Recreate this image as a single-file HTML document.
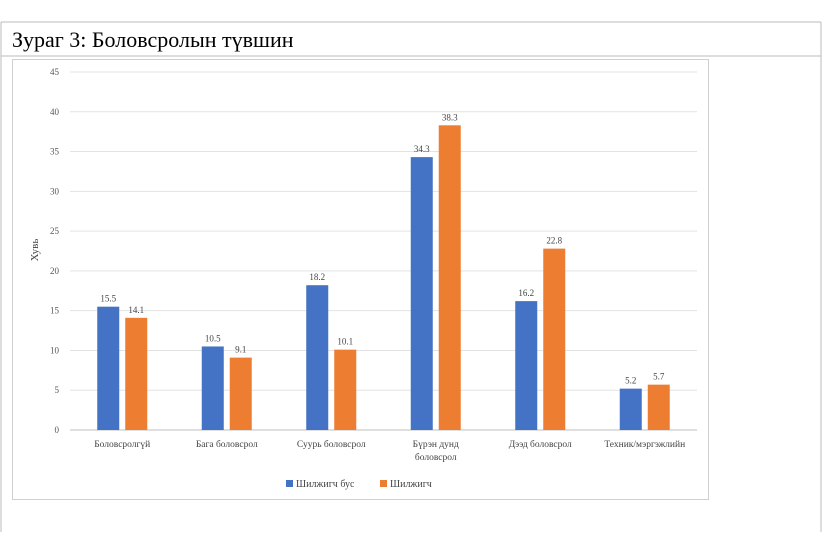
<!DOCTYPE html>
<html><head><meta charset="utf-8"><style>
body{margin:0;background:#fff;width:825px;height:532px;overflow:hidden;font-family:"Liberation Serif",serif}
</style></head><body>
<svg width="825" height="532">
<line x1="1" y1="22" x2="821" y2="22" stroke="#bbb"/>
<line x1="1" y1="56" x2="821" y2="56" stroke="#bbb"/>
<line x1="1" y1="22" x2="1" y2="532" stroke="#bbb"/>
<line x1="821" y1="22" x2="821" y2="532" stroke="#bbb"/>
<text x="12" y="47" font-size="22" fill="#000">Зураг 3: Боловсролын түвшин</text>
<rect x="12.5" y="59.5" width="696" height="440" fill="#fff" stroke="#d0d0d0"/>
<text transform="translate(38,250) rotate(-90)" font-size="11" fill="#444" text-anchor="middle">Хувь</text>
<g id="grid"></g><g id="bars"></g><g id="labels"></g>
<g>
<rect x="286" y="480" width="7" height="7" fill="#4472c4"/>
<text x="296" y="487" font-size="10" fill="#444">Шилжигч бус</text>
<rect x="380" y="480" width="7" height="7" fill="#ed7d31"/>
<text x="390" y="487" font-size="10" fill="#444">Шилжигч</text>
</g>
</svg>
<script>
const categories=[["Боловсролгүй"],["Бага боловсрол"],["Суурь боловсрол"],["Бүрэн дунд","боловсрол"],["Дээд боловсрол"],["Техник/мэргэжлийн"]];
const nonMigrant=[15.5,10.5,18.2,34.3,16.2,5.2];
const migrant=[14.1,9.1,10.1,38.3,22.8,5.7];
const yTicks=[0,5,10,15,20,25,30,35,40,45];
const NS="http://www.w3.org/2000/svg";
const x0=70,x1=697,yZero=430,yTop=72,yMax=45;
const y=v=>yZero-(v/yMax)*(yZero-yTop);
const bw=(x1-x0)/categories.length;
const xc=i=>x0+bw*(i+0.5);
function mk(tag,attrs,parent,txt){const e=document.createElementNS(NS,tag);for(const k in attrs)e.setAttribute(k,attrs[k]);if(txt!=null)e.textContent=txt;document.getElementById(parent).appendChild(e);return e;}
yTicks.forEach(t=>{
 const l=mk('line',{x1:x0,x2:x1,y1:y(t),y2:y(t),stroke:t===0?'#bfbfbf':'#e3e3e3'},'grid');
 
 
 const tx=mk('text',{x:59,y:y(t)+3,'font-size':9,fill:'#555','text-anchor':'end'},'grid',t);
 
 
});
const barW=22;
categories.forEach((c,i)=>{
 [[nonMigrant,'#4472c4',-barW-3,'non-migrant'],[migrant,'#ed7d31',3,'migrant']].forEach(([arr,col,off,nm])=>{
  const v=arr[i];
  const r=mk('rect',{x:xc(i)+off,y:y(v),width:barW,height:yZero-y(v),fill:col},'bars');
  
  
  const t=mk('text',{x:xc(i)+off+barW/2,y:y(v)-5,'font-size':9,fill:'#444','text-anchor':'middle'},'labels',v);
  
  
 });
 c.forEach((line,j)=>{
  const t=mk('text',{x:xc(i),y:447+j*13,'font-size':9.5,fill:'#444','text-anchor':'middle'},'labels',line);
  
  
 });
});
</script>
</body></html>
